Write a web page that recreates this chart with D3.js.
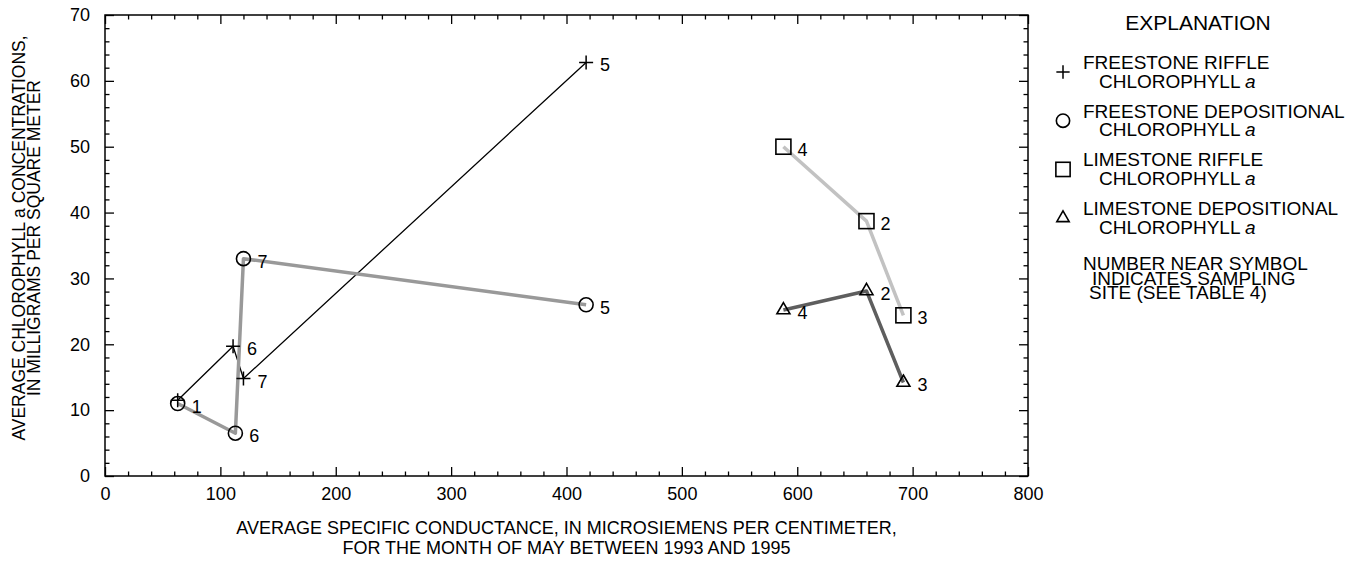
<!DOCTYPE html>
<html>
<head>
<meta charset="utf-8">
<script src="https://cdn.jsdelivr.net/npm/d3@7"></script>
<style>
  html, body { margin: 0; padding: 0; background: #fff; }
  svg { display: block; font-family: "Liberation Sans", Arial, sans-serif; }
</style>
</head>
<body>
<svg id="chart" width="1353" height="566"></svg>
<script>
// ---------------- DATA ----------------
const xTicks = [0, 100, 200, 300, 400, 500, 600, 700, 800];
const yTicks = [0, 10, 20, 30, 40, 50, 60, 70];

const freestoneRiffleSites = [1, 6, 7, 5];
const freestoneRiffleCond  = [63, 111, 120, 417];
const freestoneRiffleChl   = [11.5, 19.7, 14.8, 62.8];
const freestoneRiffleLabel = [false, true, true, true];

const freestoneDepSites = [1, 6, 7, 5];
const freestoneDepCond  = [63, 113, 120, 417];
const freestoneDepChl   = [11.0, 6.5, 33.0, 26.0];
const freestoneDepLabel = [true, true, true, true];

const limestoneRiffleSites = [4, 2, 3];
const limestoneRiffleCond  = [588, 660, 692];
const limestoneRiffleChl   = [50.0, 38.7, 24.4];
const limestoneRiffleLabel = [true, true, true];

const limestoneDepSites = [4, 2, 3];
const limestoneDepCond  = [588, 660, 692];
const limestoneDepChl   = [25.2, 28.1, 14.2];
const limestoneDepLabel = [true, true, true];

const legendNames = [
  ["FREESTONE RIFFLE", "CHLOROPHYLL "],
  ["FREESTONE DEPOSITIONAL", "CHLOROPHYLL "],
  ["LIMESTONE RIFFLE", "CHLOROPHYLL "],
  ["LIMESTONE DEPOSITIONAL", "CHLOROPHYLL "]
];
const legendNote = ["NUMBER NEAR SYMBOL", "INDICATES SAMPLING", "SITE (SEE TABLE 4)"];

// ---------------- LAYOUT ----------------
const svg = d3.select("#chart");
const pLeft = 105, pRight = 1028, pTop = 15, pBottom = 476;
const x = d3.scaleLinear().domain([0, 800]).range([pLeft, pRight]);
const y = d3.scaleLinear().domain([0, 70]).range([pBottom, pTop]);

const TICKFONT = 18;

function build(sites, cond, chl, lab) {
  return sites.map((s, i) => ({ site: s, x: cond[i], y: chl[i], label: lab[i] }));
}
const series = [
  { key: "fr", data: build(freestoneRiffleSites, freestoneRiffleCond, freestoneRiffleChl, freestoneRiffleLabel), color: "#000", width: 1.3, marker: "plus" },
  { key: "fd", data: build(freestoneDepSites, freestoneDepCond, freestoneDepChl, freestoneDepLabel), color: "#999", width: 3.5, marker: "circle" },
  { key: "lr", data: build(limestoneRiffleSites, limestoneRiffleCond, limestoneRiffleChl, limestoneRiffleLabel), color: "#c2c2c2", width: 3.5, marker: "square" },
  { key: "ld", data: build(limestoneDepSites, limestoneDepCond, limestoneDepChl, limestoneDepLabel), color: "#5e5e5e", width: 3.5, marker: "triangle" }
];

// ---------------- AXES ----------------
const minorX = d3.range(0, 801, 20).filter(v => v % 100 !== 0);
const minorY = d3.range(0, 71, 2).filter(v => v % 10 !== 0);

function styleAxis(g) {
  g.select(".domain").remove();
  g.selectAll("line").attr("stroke", "#000").attr("stroke-width", 1.3);
  g.selectAll("text").attr("fill", "#000").style("font-size", TICKFONT + "px")
    .style("font-family", '"Liberation Sans", Arial, sans-serif');
}

// bottom
svg.append("g").attr("transform", `translate(0,${pBottom})`)
  .call(d3.axisBottom(x).tickValues(xTicks).tickSizeInner(-9).tickSizeOuter(0).tickPadding(11).tickFormat(d3.format("d")))
  .call(styleAxis);
svg.append("g").attr("transform", `translate(0,${pBottom})`)
  .call(d3.axisBottom(x).tickValues(minorX).tickSizeInner(-4.5).tickSizeOuter(0).tickFormat(""))
  .call(styleAxis);
// top
svg.append("g").attr("transform", `translate(0,${pTop})`)
  .call(d3.axisTop(x).tickValues(xTicks).tickSizeInner(-9).tickSizeOuter(0).tickFormat(""))
  .call(styleAxis);
svg.append("g").attr("transform", `translate(0,${pTop})`)
  .call(d3.axisTop(x).tickValues(minorX).tickSizeInner(-4.5).tickSizeOuter(0).tickFormat(""))
  .call(styleAxis);
// left
svg.append("g").attr("transform", `translate(${pLeft},0)`)
  .call(d3.axisLeft(y).tickValues(yTicks).tickSizeInner(-9).tickSizeOuter(0).tickPadding(15).tickFormat(d3.format("d")))
  .call(styleAxis);
svg.append("g").attr("transform", `translate(${pLeft},0)`)
  .call(d3.axisLeft(y).tickValues(minorY).tickSizeInner(-4.5).tickSizeOuter(0).tickFormat(""))
  .call(styleAxis);
// right
svg.append("g").attr("transform", `translate(${pRight},0)`)
  .call(d3.axisRight(y).tickValues(yTicks).tickSizeInner(-9).tickSizeOuter(0).tickFormat(""))
  .call(styleAxis);
svg.append("g").attr("transform", `translate(${pRight},0)`)
  .call(d3.axisRight(y).tickValues(minorY).tickSizeInner(-4.5).tickSizeOuter(0).tickFormat(""))
  .call(styleAxis);

// frame
svg.append("rect").attr("x", pLeft).attr("y", pTop).attr("width", pRight - pLeft).attr("height", pBottom - pTop)
  .attr("fill", "none").attr("stroke", "#000").attr("stroke-width", 1.5);

// axis titles
const xt = svg.append("text").attr("text-anchor", "middle").style("font-size", "18px").attr("fill", "#000");
xt.append("tspan").attr("x", (pLeft + pRight) / 2).attr("y", 534).text("AVERAGE SPECIFIC CONDUCTANCE, IN MICROSIEMENS PER CENTIMETER,");
xt.append("tspan").attr("x", (pLeft + pRight) / 2).attr("y", 554).text("FOR THE MONTH OF MAY BETWEEN 1993 AND 1995");

const ycx = 238;
const yt = svg.append("text").attr("text-anchor", "middle").style("font-size", "17.5px").attr("fill", "#000")
  .attr("transform", `translate(24.5,${ycx}) rotate(-90)`);
yt.append("tspan").attr("x", 0).attr("y", 0).text("AVERAGE CHLOROPHYLL a CONCENTRATIONS,");
yt.append("tspan").attr("x", 0).attr("y", 15).text("IN MILLIGRAMS PER SQUARE METER");

// ---------------- MARKS ----------------
const line = d3.line().x(d => x(d.x)).y(d => y(d.y));
const plot = svg.append("g");

series.forEach(s => {
  plot.append("path").datum(s.data).attr("d", line)
    .attr("fill", "none").attr("stroke", s.color).attr("stroke-width", s.width)
    .attr("stroke-linejoin", "round");
});

function drawMarker(g, type, cx, cy, scale) {
  const k = scale || 1;
  if (type === "plus") {
    const a = 7 * k;
    g.append("path").attr("d", `M${cx - a},${cy}H${cx + a}M${cx},${cy - a}V${cy + a}`)
      .attr("stroke", "#000").attr("stroke-width", 1.5).attr("fill", "none");
  } else if (type === "circle") {
    g.append("circle").attr("cx", cx).attr("cy", cy).attr("r", 7 * k)
      .attr("stroke", "#000").attr("stroke-width", 1.6).attr("fill", "none");
  } else if (type === "square") {
    const h = 7.5 * k;
    g.append("rect").attr("x", cx - h).attr("y", cy - h).attr("width", 2 * h).attr("height", 2 * h)
      .attr("stroke", "#000").attr("stroke-width", 1.6).attr("fill", "none");
  } else if (type === "triangle") {
    const s = 13 * k, hgt = s * 0.866;
    g.append("path").attr("d", `M${cx},${cy - hgt * 2 / 3}L${cx + s / 2},${cy + hgt / 3}L${cx - s / 2},${cy + hgt / 3}Z`)
      .attr("stroke", "#000").attr("stroke-width", 1.6).attr("fill", "none");
  }
}

series.forEach(s => {
  s.data.forEach(d => {
    drawMarker(plot, s.marker, x(d.x), y(d.y));
    if (d.label) {
      plot.append("text").attr("x", x(d.x) + 14).attr("y", y(d.y) + 3)
        .attr("dominant-baseline", "central").style("font-size", "18px").attr("fill", "#000")
        .text(d.site);
    }
  });
});

// ---------------- LEGEND ----------------
const lg = svg.append("g").style("font-size", "19px").attr("fill", "#000");
lg.append("text").attr("x", 1198).attr("y", 30).attr("text-anchor", "middle").style("font-size", "21px").text("EXPLANATION");

const itemY0 = 69, itemStep = 48.7;
series.forEach((s, i) => {
  const by = itemY0 + i * itemStep;
  drawMarker(lg, s.marker, 1063, by + 3, 0.95);
  const t = lg.append("text");
  t.append("tspan").attr("x", 1083).attr("y", by).text(legendNames[i][0]);
  t.append("tspan").attr("x", 1099).attr("y", by + 18.7).text(legendNames[i][1]);
  t.append("tspan").style("font-style", "italic").text("a");
});
const noteX = [1083, 1092, 1089];
const note = lg.append("text");
legendNote.forEach((t, i) => {
  note.append("tspan").attr("x", noteX[i]).attr("y", 270 + i * 14.5).text(t);
});
</script>
</body>
</html>
